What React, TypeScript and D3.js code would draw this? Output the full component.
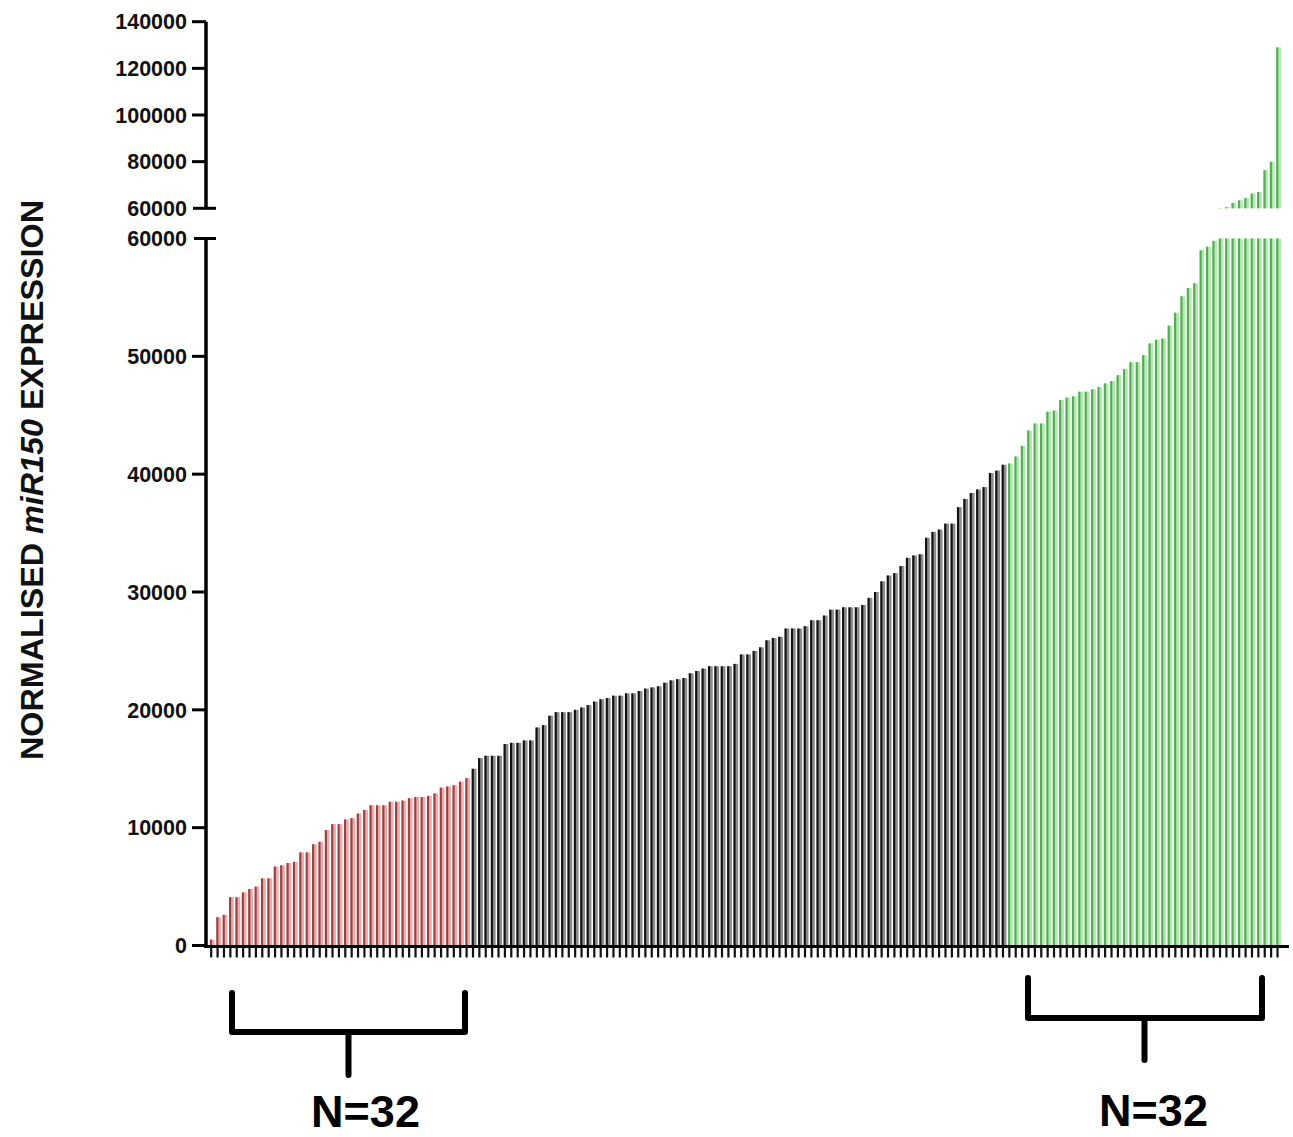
import React from "react";
import * as d3 from "d3";

// Sorted normalised miR150 expression per sample
const lowGroup = [
  500, 2400, 2600, 4100, 4100, 4500, 4800, 5000, 5700, 5700,
  6700, 6800, 7000, 7100, 7900, 7900, 8600, 8800, 9800, 10300,
  10300, 10700, 10800, 11200, 11500, 11900, 11900, 11900, 12200, 12200,
  12300, 12500, 12600, 12600, 12700, 12900, 13400, 13500, 13600, 13900,
  14200,
];
const midGroup = [
  15000, 15900, 16100, 16100, 16100, 17100, 17200, 17200, 17400, 17400,
  18500, 18700, 19500, 19800, 19800, 19800, 20000, 20200, 20400, 20700,
  20900, 21000, 21200, 21200, 21400, 21400, 21600, 21800, 21900, 22000,
  22300, 22500, 22600, 22700, 23100, 23300, 23500, 23700, 23700, 23700,
  23700, 23900,
  24700, 24700, 25000, 25300, 25900, 26100, 26200, 26900, 26900, 26900,
  27100, 27600, 27600, 28000, 28500, 28500, 28700, 28700, 28700, 28900,
  29500, 30000, 30900, 31400, 31600, 32200, 32900, 33100, 33200, 34600,
  35100, 35300, 35800, 35800, 37200, 37900, 38400, 38700, 38900, 40100,
  40300, 40800,
];
const highGroup = [
  40900, 41500, 42400, 43700, 44300, 44300, 45300, 45400, 46300, 46500,
  46600, 47000, 47000, 47200, 47400, 47700, 47900, 48400, 48900, 49500,
  49500, 50100, 51100, 51400, 51500, 52600, 53700, 55100, 55800, 56200,
  59000, 59300, 59800, 60100, 60500, 62300, 63400, 64400, 66300, 67000,
  76300, 79900, 129000,
];
const bottomTicks = [0, 10000, 20000, 30000, 40000, 50000, 60000];
const topTicks = [60000, 80000, 100000, 120000, 140000];
const groupLabel = "N=32";

const groupColors: Record<string, { light: string; dark: string }> = {
  low: { light: "#f3a9a9", dark: "#8e4646" },
  mid: { light: "#8c8c8c", dark: "#121212" },
  high: { light: "#aaeeaa", dark: "#5da65d" },
};

const FONT = "'Liberation Sans', Arial, Helvetica, sans-serif";

export default function App() {
  const W = 1293;
  const H = 1137;
  const values = [...lowGroup, ...midGroup, ...highGroup];
  const groupOf = (i: number) =>
    i < lowGroup.length ? "low" : i < lowGroup.length + midGroup.length ? "mid" : "high";

  const x = d3
    .scaleBand<number>()
    .domain(d3.range(values.length))
    .range([209.5, 1282.2]);
  const bw = x.bandwidth();
  const yB = d3.scaleLinear().domain([0, 60000]).range([945.5, 238.5]);
  const yT = d3.scaleLinear().domain([60000, 140000]).range([208.3, 21.7]);

  const axisX = 206;
  const barW = bw * 0.75;
  const lineW = bw * 0.33;

  return (
    <svg
      width={W}
      height={H}
      style={{ position: "absolute", left: 0, top: 0, display: "block", background: "#fff" }}
      fontFamily={FONT}
    >
      {/* bars: lower segment */}
      <g>
        {values.map((v, i) => {
          const c = groupColors[groupOf(i)];
          const b = x(i)!;
          const vv = Math.min(v, 60000);
          const top = yB(vv);
          const h = yB(0) - top;
          return (
            <g key={i}>
              <rect x={b + 0.4} y={top} width={barW} height={h} fill={c.light} />
              <rect x={b + 0.4} y={top} width={lineW} height={h} fill={c.dark} />
            </g>
          );
        })}
      </g>
      {/* bars: upper segment */}
      <g>
        {values.map((v, i) => {
          if (v <= 60000) return null;
          const c = groupColors[groupOf(i)];
          const b = x(i)!;
          const top = yT(Math.min(v, 140000));
          const h = yT(60000) - top;
          return (
            <g key={i}>
              <rect x={b + 0.4} y={top} width={barW} height={h} fill={c.light} />
              <rect x={b + 0.4} y={top} width={lineW} height={h} fill={c.dark} />
            </g>
          );
        })}
      </g>

      {/* x axis */}
      <line x1={204} x2={1289} y1={yB(0) + 1} y2={yB(0) + 1} stroke="#000" strokeWidth={3} />
      {values.map((_, i) => (
        <rect key={i} x={x(i)! + 0.6} y={yB(0) + 1} width={2.2} height={11} fill="#111" />
      ))}

      {/* y axis lower segment */}
      <line x1={axisX} x2={axisX} y1={yB(60000)} y2={yB(0) + 1} stroke="#000" strokeWidth={3.5} />
      {bottomTicks.map((t) => (
        <g key={t}>
          <line
            x1={t === 60000 ? 194 : 192}
            x2={t === 60000 ? 216 : axisX}
            y1={yB(t)}
            y2={yB(t)}
            stroke="#000"
            strokeWidth={3}
          />
          <text
            x={187}
            y={yB(t)}
            dy="0.36em"
            textAnchor="end"
            fontSize={21.5}
            fontWeight="bold"
            fill="#111"
          >
            {t}
          </text>
        </g>
      ))}

      {/* y axis upper segment */}
      <line x1={axisX} x2={axisX} y1={yT(140000)} y2={yT(60000)} stroke="#000" strokeWidth={3.5} />
      {topTicks.map((t) => (
        <g key={t}>
          <line
            x1={t === 60000 ? 193 : 192}
            x2={t === 60000 ? 216 : axisX}
            y1={yT(t)}
            y2={yT(t)}
            stroke="#000"
            strokeWidth={3}
          />
          <text
            x={187}
            y={yT(t)}
            dy="0.36em"
            textAnchor="end"
            fontSize={21.5}
            fontWeight="bold"
            fill="#111"
          >
            {t}
          </text>
        </g>
      ))}

      {/* y axis title */}
      <text
        transform="translate(43,480) rotate(-90)"
        textAnchor="middle"
        fontSize={31}
        fontWeight="bold"
        textLength={560}
        lengthAdjust="spacingAndGlyphs"
        fill="#111"
      >
        NORMALISED <tspan fontStyle="italic">miR150</tspan> EXPRESSION
      </text>

      {/* group brackets */}
      <g fill="none" stroke="#000" strokeWidth={6} strokeLinejoin="round" strokeLinecap="round">
        <path d="M232,993 V1032 H465 V993" />
        <path d="M348.5,1032 V1075" />
        <path d="M1028,978 V1018 H1262 V978" />
        <path d="M1144.5,1018 V1060" />
      </g>
      <text x={365.5} y={1127} textAnchor="middle" fontSize={45} fontWeight="bold" fill="#000">
        {groupLabel}
      </text>
      <text x={1153.5} y={1126} textAnchor="middle" fontSize={45} fontWeight="bold" fill="#000">
        {groupLabel}
      </text>
    </svg>
  );
}
